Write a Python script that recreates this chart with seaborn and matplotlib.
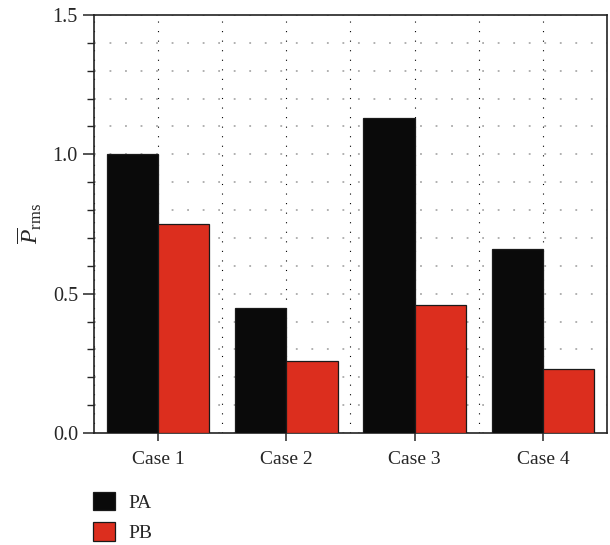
import matplotlib
matplotlib.use("Agg")
import matplotlib.pyplot as plt
import seaborn as sns
import pandas as pd
from matplotlib.ticker import MultipleLocator, FormatStrFormatter

cases = ["Case 1", "Case 2", "Case 3", "Case 4"]
series = ["PA", "PB"]
pa_values = [1.00, 0.45, 1.13, 0.66]
pb_values = [0.75, 0.26, 0.46, 0.23]
colors = ["#0a0a0a", "#dc2e1e"]

df = pd.DataFrame({
    "case": cases * 2,
    "series": [series[0]] * len(cases) + [series[1]] * len(cases),
    "value": pa_values + pb_values,
})

sns.set_style("ticks")
plt.rcParams["font.family"] = ["Liberation Serif", "DejaVu Serif"]
plt.rcParams["mathtext.fontset"] = "custom"
plt.rcParams["mathtext.rm"] = "Liberation Serif"
plt.rcParams["mathtext.it"] = "Liberation Serif:italic"

fig = plt.figure(figsize=(6.1, 5.45), dpi=100)
ax = fig.add_axes([0.154, 0.2055, 0.841, 0.767])

sns.barplot(data=df, x="case", y="value", hue="series", palette=colors,
            width=0.8, edgecolor="#1a1a1a", linewidth=0.9, saturation=1,
            ax=ax, legend=True, zorder=3)

ax.set_xlim(-0.5, 3.5)
ax.set_ylim(0, 1.5)
ax.yaxis.set_major_locator(MultipleLocator(0.5))
ax.yaxis.set_minor_locator(MultipleLocator(0.1))
ax.yaxis.set_major_formatter(FormatStrFormatter("%.1f"))
ax.xaxis.set_minor_locator(MultipleLocator(0.5))

# dotted grid: grey horizontals at every 0.1, black verticals every half case
ax.grid(axis="y", which="both", color="#aaaaaa", linestyle=(0, (1, 7.6)),
        linewidth=1.3, zorder=0)
ax.grid(axis="x", which="both", color="#000000", linestyle=(0, (1, 7.6)),
        linewidth=0.8, zorder=0)
ax.set_axisbelow(True)

for s in ax.spines.values():
    s.set_visible(True)
    s.set_linewidth(1.2)
    s.set_color("#222222")

ax.tick_params(axis="y", which="major", direction="out", length=8, width=1.1, labelsize=14.5)
ax.tick_params(axis="y", which="minor", direction="out", length=5, width=1.0)
ax.tick_params(axis="x", which="major", direction="out", length=6, width=1.1,
               labelsize=14, pad=7)
ax.tick_params(axis="x", which="minor", length=0)

ax.set_xlabel("")
ax.set_ylabel(r"$\overline{P}_{\mathrm{rms}}$", fontsize=17, labelpad=6)

leg = ax.get_legend()
handles = leg.legend_handles
labels = [t.get_text() for t in leg.get_texts()]
leg.remove()
fig.legend(handles, labels, loc="upper left", bbox_to_anchor=(0.14, 0.112),
           frameon=False, fontsize=14, handlelength=1.1, handleheight=1.1,
           labelspacing=0.55, handletextpad=0.7, borderaxespad=0)

fig.savefig("out.png", dpi=100)
